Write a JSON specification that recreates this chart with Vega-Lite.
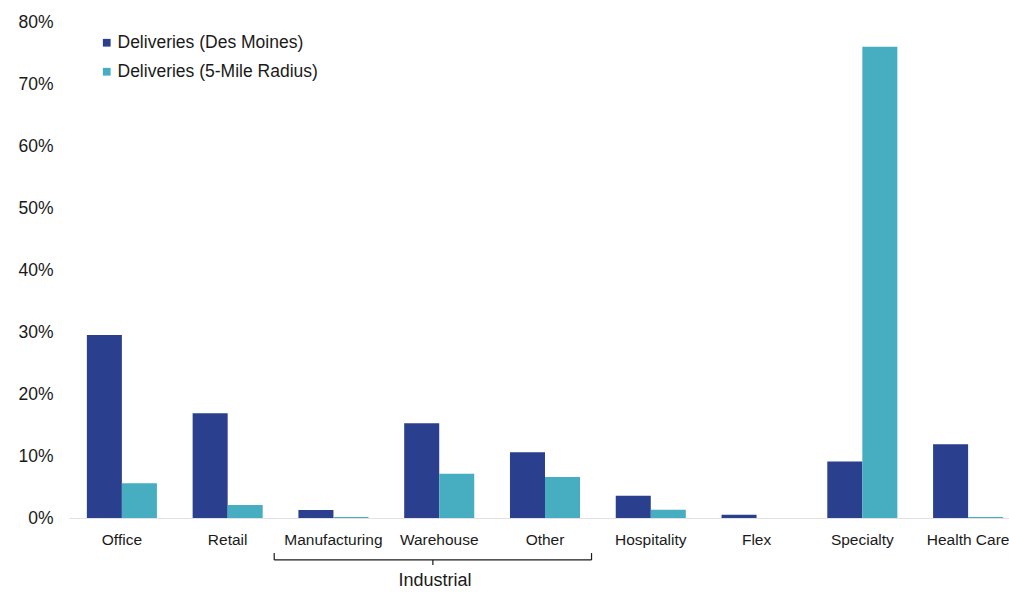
{
  "$schema": "https://vega.github.io/schema/vega-lite/v6.json",
  "width": 940,
  "height": 496,
  "autosize": {"type": "none"},
  "padding": {"left": 69, "top": 22, "right": 0, "bottom": 74},
  "background": "white",
  "config": {"view": {"stroke": null}, "font": "Liberation Sans"},
  "data": {
    "values": [
      {"type": "Office", "series": "Deliveries (Des Moines)", "value": 0.295},
      {"type": "Office", "series": "Deliveries (5-Mile Radius)", "value": 0.056},
      {"type": "Retail", "series": "Deliveries (Des Moines)", "value": 0.169},
      {"type": "Retail", "series": "Deliveries (5-Mile Radius)", "value": 0.021},
      {"type": "Manufacturing", "series": "Deliveries (Des Moines)", "value": 0.013},
      {"type": "Manufacturing", "series": "Deliveries (5-Mile Radius)", "value": 0.0015},
      {"type": "Warehouse", "series": "Deliveries (Des Moines)", "value": 0.153},
      {"type": "Warehouse", "series": "Deliveries (5-Mile Radius)", "value": 0.0715},
      {"type": "Other", "series": "Deliveries (Des Moines)", "value": 0.106},
      {"type": "Other", "series": "Deliveries (5-Mile Radius)", "value": 0.066},
      {"type": "Hospitality", "series": "Deliveries (Des Moines)", "value": 0.036},
      {"type": "Hospitality", "series": "Deliveries (5-Mile Radius)", "value": 0.0135},
      {"type": "Flex", "series": "Deliveries (Des Moines)", "value": 0.0053},
      {"type": "Flex", "series": "Deliveries (5-Mile Radius)", "value": 0},
      {"type": "Specialty", "series": "Deliveries (Des Moines)", "value": 0.091},
      {"type": "Specialty", "series": "Deliveries (5-Mile Radius)", "value": 0.76},
      {"type": "Health Care", "series": "Deliveries (Des Moines)", "value": 0.119},
      {"type": "Health Care", "series": "Deliveries (5-Mile Radius)", "value": 0.0015}
    ]
  },
  "layer": [
    {
      "mark": {"type": "bar"},
      "encoding": {
        "x": {
          "field": "type",
          "type": "nominal",
          "title": null,
          "scale": {
            "domain": ["Office", "Retail", "Manufacturing", "Warehouse", "Other", "Hospitality", "Flex", "Specialty", "Health Care"],
            "range": [0, 952],
            "paddingInner": 0,
            "paddingOuter": 0
          },
          "axis": {
            "labelAngle": 0,
            "ticks": false,
            "tickSize": 0,
            "labelPadding": 14,
            "labelFontSize": 15.5,
            "labelColor": "#1a1a1a",
            "domainColor": "#e2e2e2",
            "domainWidth": 1,
            "grid": false
          }
        },
        "xOffset": {
          "field": "series",
          "type": "nominal",
          "scale": {
            "domain": ["Deliveries (Des Moines)", "Deliveries (5-Mile Radius)"],
            "paddingInner": 0,
            "paddingOuter": 0.51
          }
        },
        "y": {
          "field": "value",
          "type": "quantitative",
          "title": null,
          "scale": {"domain": [0, 0.8], "nice": false},
          "axis": {
            "values": [0, 0.1, 0.2, 0.3, 0.4, 0.5, 0.6, 0.7, 0.8],
            "format": ".0%",
            "grid": false,
            "domain": false,
            "ticks": false,
            "tickSize": 0,
            "labelPadding": 16,
            "labelFontSize": 17.5,
            "labelColor": "#1a1a1a"
          }
        },
        "color": {
          "field": "series",
          "type": "nominal",
          "title": null,
          "scale": {
            "domain": ["Deliveries (Des Moines)", "Deliveries (5-Mile Radius)"],
            "range": ["#2a3f8e", "#46aec0"]
          },
          "legend": {
            "orient": "none",
            "legendX": 29,
            "legendY": 12,
            "padding": 0,
            "symbolType": "square",
            "symbolSize": 60,
            "symbolStrokeWidth": 0,
            "labelFontSize": 17.5,
            "labelColor": "#1a1a1a",
            "labelLimit": 400,
            "labelOffset": 2,
            "rowPadding": 10
          }
        }
      }
    },
    {
      "data": {"values": [{}]},
      "mark": {"type": "rule", "color": "#1a1a1a", "strokeWidth": 1.2},
      "encoding": {
        "x": {"datum": "Manufacturing", "type": "nominal", "bandPosition": -0.06},
        "x2": {"datum": "Other", "bandPosition": 0.94},
        "y": {"datum": -0.0677, "type": "quantitative"}
      }
    },
    {
      "data": {"values": [{}]},
      "mark": {"type": "rule", "color": "#1a1a1a", "strokeWidth": 1.2},
      "encoding": {
        "x": {"datum": "Manufacturing", "type": "nominal", "bandPosition": -0.06},
        "y": {"datum": -0.0565, "type": "quantitative"},
        "y2": {"datum": -0.0677}
      }
    },
    {
      "data": {"values": [{}]},
      "mark": {"type": "rule", "color": "#1a1a1a", "strokeWidth": 1.2},
      "encoding": {
        "x": {"datum": "Other", "type": "nominal", "bandPosition": 0.94},
        "y": {"datum": -0.0565, "type": "quantitative"},
        "y2": {"datum": -0.0677}
      }
    },
    {
      "data": {"values": [{}]},
      "mark": {"type": "rule", "color": "#1a1a1a", "strokeWidth": 1.2},
      "encoding": {
        "x": {"datum": "Warehouse", "type": "nominal", "bandPosition": 0.44},
        "y": {"datum": -0.0677, "type": "quantitative"},
        "y2": {"datum": -0.0758}
      }
    },
    {
      "data": {"values": [{"label": "Industrial"}]},
      "mark": {"type": "text", "fontSize": 18, "color": "#1a1a1a", "baseline": "middle", "align": "center"},
      "encoding": {
        "x": {"datum": "Warehouse", "type": "nominal", "bandPosition": 0.46},
        "y": {"datum": -0.1016, "type": "quantitative"},
        "text": {"field": "label"}
      }
    }
  ]
}
